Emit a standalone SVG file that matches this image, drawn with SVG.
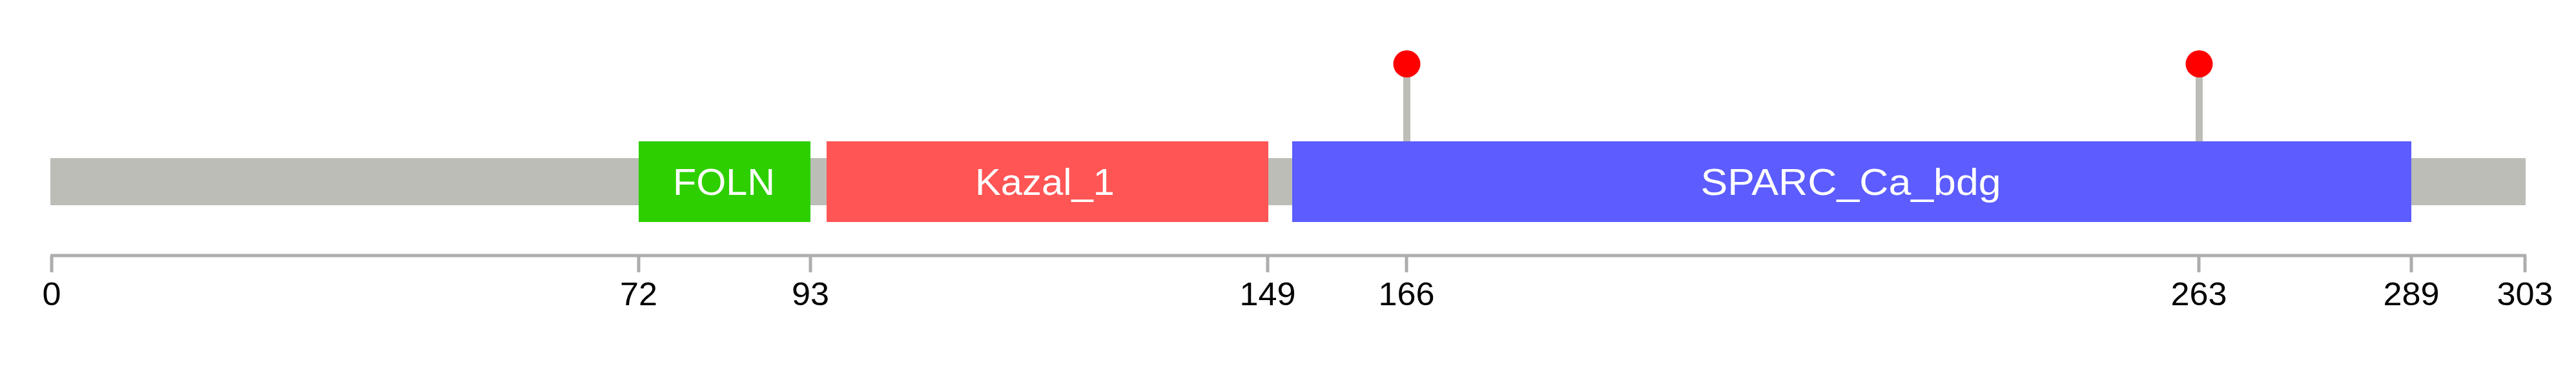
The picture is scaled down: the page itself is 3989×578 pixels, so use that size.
<svg xmlns="http://www.w3.org/2000/svg" width="3989" height="578" viewBox="0 0 3989 578">
<style>
.bar{fill:#BBBDB6}
.stem{fill:#BBBDB6}
.site{fill:#FF0000}
.axis{stroke:#ADADAD;stroke-width:5;fill:none}
.dlabel{font-family:"Liberation Sans",Arial,sans-serif;font-size:58px;fill:#FFFFFF;text-anchor:middle}
.tlabel{font-family:"Liberation Sans",Arial,sans-serif;font-size:50px;fill:#000000;text-anchor:middle}
</style>
<rect width="3989" height="578" fill="#FFFFFF"/>
<g id="backbone"><rect class="bar" x="78" y="245" width="3833" height="73"/></g>
<g id="connectors">
<rect class="stem" x="2173" y="110" width="11" height="110"/>
<rect class="stem" x="3400" y="110" width="11" height="110"/>
</g>
<g id="site166"><circle class="site" cx="2178.5" cy="99" r="21"/></g>
<g id="site263"><circle class="site" cx="3405.5" cy="99" r="21"/></g>
<g id="FOLN"><rect x="989" y="219" width="266" height="125" fill="#2ECF00"/><text class="dlabel" x="1121" y="302" textLength="158" lengthAdjust="spacingAndGlyphs">FOLN</text></g>
<g id="Kazal_1"><rect x="1280" y="219" width="684" height="125" fill="#FF5555"/><text class="dlabel" x="1618" y="302" textLength="216" lengthAdjust="spacingAndGlyphs">Kazal_1</text></g>
<g id="SPARC_Ca_bdg"><rect x="2001" y="219" width="1733" height="125" fill="#5C5CFF"/><text class="dlabel" x="2866" y="302" textLength="465" lengthAdjust="spacingAndGlyphs">SPARC_Ca_bdg</text></g>
<g id="axis">
<path class="axis" d="M78 396 H3912"/>
<path class="axis" d="M80 396 V422 M989 396 V422 M1255 396 V422 M1963 396 V422 M2178 396 V422 M3405 396 V422 M3734 396 V422 M3910 396 V422"/>
<text class="tlabel" x="80" y="473" textLength="29" lengthAdjust="spacingAndGlyphs">0</text>
<text class="tlabel" x="989" y="473" textLength="58" lengthAdjust="spacingAndGlyphs">72</text>
<text class="tlabel" x="1255" y="473" textLength="58" lengthAdjust="spacingAndGlyphs">93</text>
<text class="tlabel" x="1963" y="473" textLength="87" lengthAdjust="spacingAndGlyphs">149</text>
<text class="tlabel" x="2178" y="473" textLength="87" lengthAdjust="spacingAndGlyphs">166</text>
<text class="tlabel" x="3405" y="473" textLength="87" lengthAdjust="spacingAndGlyphs">263</text>
<text class="tlabel" x="3734" y="473" textLength="87" lengthAdjust="spacingAndGlyphs">289</text>
<text class="tlabel" x="3910" y="473" textLength="87" lengthAdjust="spacingAndGlyphs">303</text>
</g>
</svg>
